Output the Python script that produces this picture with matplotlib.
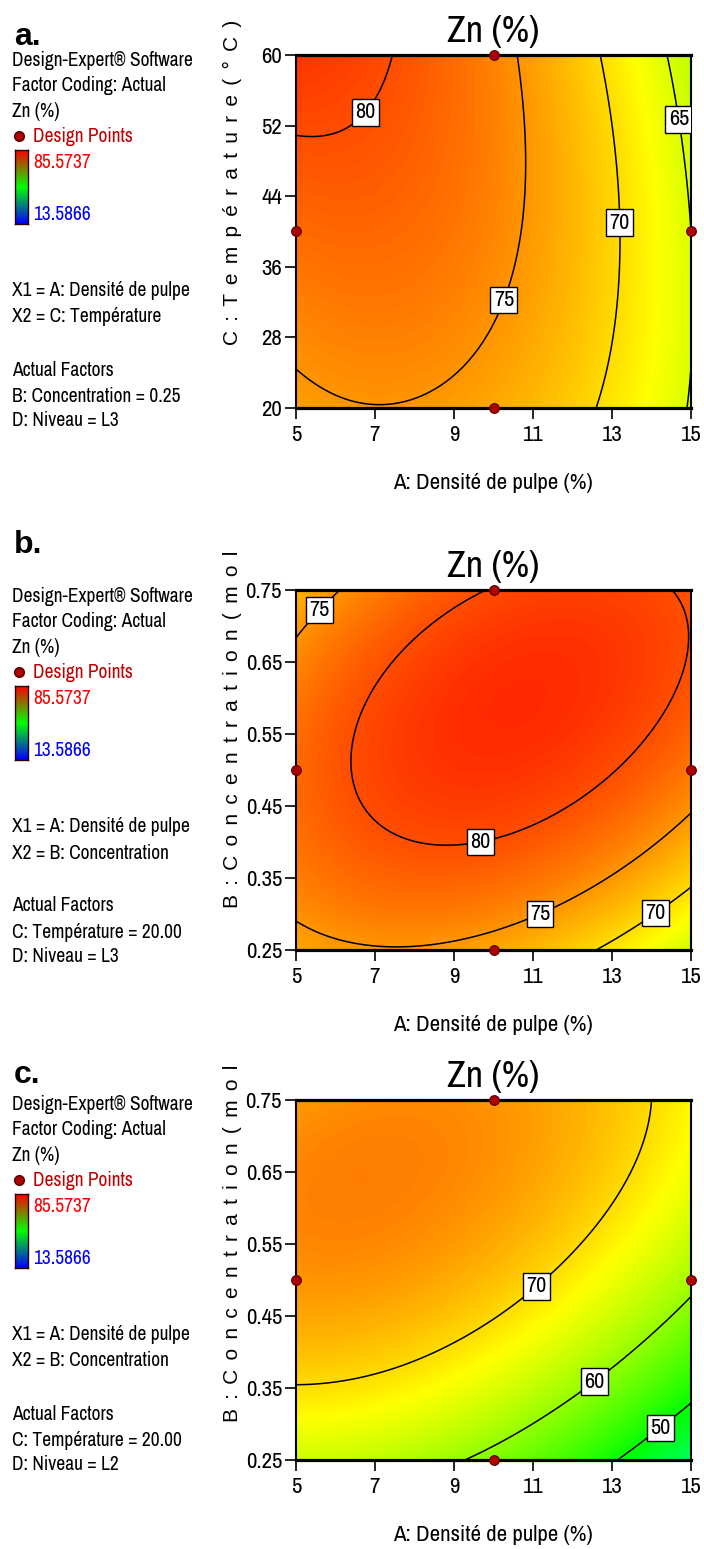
import numpy as np
import matplotlib
matplotlib.use("Agg")
import matplotlib.pyplot as plt
from matplotlib import font_manager
from matplotlib.colors import LinearSegmentedColormap
from matplotlib.transforms import Bbox

# Response values (Zn %) read at the 3x3 design grid, rows = low/center/high of the Y factor,
# columns = A: 5 / 10 / 15 %
zn_a = [[74.2, 73.56, 64.74],
        [77.9, 75.99, 65.0],
        [81.8, 76.18, 63.0]]
zn_b = [[73.65, 73.65, 64.4],
        [77.98, 81.99, 77.1],
        [72.64, 80.14, 79.6]]
zn_c = [[64.0, 58.58, 43.0],
        [75.0, 72.03, 61.2],
        [74.5, 75.0, 68.0]]

dens = [5, 10, 15]
temp = [20, 40, 60]
conc = [0.25, 0.5, 0.75]

levels_a = [65, 70, 75, 80]
levels_b = [70, 75, 80]
levels_c = [50, 60, 70]

zmin, zmax = 13.5866, 85.5737

xticks = [5, 7, 9, 11, 13, 15]
yticks_temp = [20, 28, 36, 44, 52, 60]
yticks_conc = [0.25, 0.35, 0.45, 0.55, 0.65, 0.75]

#label anchor points for the contour labels
lab_a = [(6.5, 54.5), (10.1, 32.5), (13.2, 41), (14.7, 52.7)]
lab_b = [(5.45, 0.73), (9.6, 0.42), (11.1, 0.31), (14.0, 0.31)]
lab_c = [(10.8, 0.51), (12.4, 0.37), (14.0, 0.31)]

legend_a = ["X1 = A: Densité de pulpe", "X2 = C: Température", "Actual Factors",
            "B: Concentration = 0.25", "D: Niveau = L3"]
legend_b = ["X1 = A: Densité de pulpe", "X2 = B: Concentration", "Actual Factors",
            "C: Température = 20.00", "D: Niveau = L3"]
legend_c = ["X1 = A: Densité de pulpe", "X2 = B: Concentration", "Actual Factors",
            "C: Température = 20.00", "D: Niveau = L2"]

W, H = 704, 1549
names = {f.name for f in font_manager.fontManager.ttflist}
NARROW = 'Liberation Sans'
for cand in ['Liberation Sans Narrow', 'Nimbus Sans Narrow', 'Arial Narrow', 'Archivo Narrow',
             'PT Sans Narrow', 'Roboto Condensed', 'Open Sans Condensed']:
    if cand in names:
        NARROW = cand
        break
REG = ['Liberation Sans', 'DejaVu Sans']
plt.rcParams['font.family'] = [NARROW, 'DejaVu Sans']

# blue -> cyan -> green -> yellow -> red, like Design-Expert
surf_cmap = LinearSegmentedColormap.from_list(
    "de", ["#0000ff", "#00ffff", "#00ff00", "#ffff00", "#ff0000"])
bar_cmap = LinearSegmentedColormap.from_list("bar", ["#0000ff", "#00ff00", "#ff0000"])

fig = plt.figure(figsize=(W / 100, H / 100), dpi=100)


def px(x, y):
    return x / W, 1 - y / H


def surface(grid, n=300):
    #quadratic response surface through the grid values
    u = np.linspace(-1, 1, n)
    L = np.stack([u * (u - 1) / 2, 1 - u ** 2, u * (u + 1) / 2])
    return L.T @ np.array(grid) @ L


def panel(top, bottom, grid, ylevels, yticks, yfmt, levels, labpos):
    ax = fig.add_axes([296 / W, 1 - bottom / H, 395 / W, (bottom - top) / H])
    Z = surface(grid)
    x = np.linspace(dens[0], dens[-1], Z.shape[1])
    y = np.linspace(ylevels[0], ylevels[-1], Z.shape[0])
    ax.imshow(Z, extent=[x[0], x[-1], y[0], y[-1]], origin='lower', aspect='auto',
              cmap=surf_cmap, vmin=zmin, vmax=zmax, interpolation='bilinear')
    cs = ax.contour(x, y, Z, levels=levels, colors='black', linewidths=1.1)
    labs = ax.clabel(cs, levels, inline=False, fmt='%d', fontsize=16, manual=labpos)
    for t in labs:
        t.set_rotation(0)
        t.set_bbox(dict(boxstyle='square,pad=0.15', fc='white', ec='black', lw=1))
        t.set_zorder(6)
    # design points
    px_ = [dens[1], dens[0], dens[2], dens[1]]
    py_ = [ylevels[2], ylevels[1], ylevels[1], ylevels[0]]
    ax.plot(px_, py_, 'o', ms=7, mfc='#b00000', mec='#500000', mew=0.8,
            clip_on=False, zorder=7, ls='none')
    ax.set_xlim(dens[0], dens[-1])
    ax.set_ylim(ylevels[0], ylevels[-1])
    ax.set_xticks(xticks)
    ax.set_yticks(yticks)
    ax.set_yticklabels([yfmt % v for v in yticks])
    ax.tick_params(direction='out', length=8, width=1.2, labelsize=16.5)
    ax.tick_params(axis='x', pad=4)
    ax.tick_params(axis='y', pad=2)
    for s in ['left', 'right']:
        ax.spines[s].set_linewidth(1.5)
    for s in ['top', 'bottom']:
        ax.spines[s].set_linewidth(2.3)
    fig.text(*px(493, top - 13), "Zn (%)", ha='center', va='baseline', fontsize=27)
    return ax


def legend(letter, ly, top, lines):
    fig.text(*px(14, ly), letter, ha='left', va='baseline', fontsize=23,
             fontweight='bold', family=REG)
    rows = ["Design-Expert® Software", "Factor Coding: Actual", "Zn (%)"]
    for i, s in enumerate(rows):
        fig.text(*px(12, top + [0, 25.5, 51.5][i]), s, ha='left', va='center', fontsize=14)
    fig.add_artist(plt.Line2D([19 / W], [1 - (top + 76) / H], marker='o', ms=7,
                              mfc='#b00000', mec='#500000', transform=fig.transFigure))
    fig.text(*px(33, top + 76), "Design Points", ha='left', va='center', fontsize=14,
             color='#c00000')
    cax = fig.add_axes([15 / W, 1 - (top + 164) / H, 13 / W, 74 / H])
    cax.imshow(np.linspace(0, 1, 100)[:, None], cmap=bar_cmap, origin='lower', aspect='auto')
    cax.set_xticks([])
    cax.set_yticks([])
    for s in cax.spines.values():
        s.set_linewidth(1)
        s.set_color('#300000')
    fig.text(*px(33, top + 102), "%.4f" % zmax, ha='left', va='center', fontsize=14,
             color='#ff0000')
    fig.text(*px(33, top + 154), "%.4f" % zmin, ha='left', va='center', fontsize=14,
             color='#0000ff')
    for off, s in zip([231, 257, 310, 336, 361], lines):
        fig.text(*px(12, top + off), s, ha='left', va='center', fontsize=14)


def spaced(s):
    #Design-Expert spreads the letters of the vertical axis title
    return (" \u2006").join(c for c in s if c != " ")


def ylabel(text, ybottom, cliptop):
    t = fig.text(*px(232, ybottom), text, rotation=90, ha='center', va='bottom',
                 fontsize=15, family=REG)
    clip = Bbox.from_extents(0, H - ybottom - 10, W, H - cliptop)
    t.set_clip_box(clip)
    t.set_clip_on(True)


def xlabel(yc):
    fig.text(*px(493, yc), "A: Densité de pulpe (%)", ha='center', va='center', fontsize=16.5)


panel(55, 408, zn_a, temp, yticks_temp, "%d", levels_a, lab_a)
panel(590, 950, zn_b, conc, yticks_conc, "%.2f", levels_b, lab_b)
panel(1100, 1460, zn_c, conc, yticks_conc, "%.2f", levels_c, lab_c)

legend("a.", 45, 60, legend_a)
legend("b.", 553, 596, legend_b)
legend("c.", 1083, 1104, legend_c)

ylabel(spaced("C: Température (°C)"), 345, 0)
ylabel(spaced("B: Concentration (mol/L)"), 908, 543)
ylabel(spaced("B: Concentration (mol/L)"), 1422, 1065)

xlabel(483)
xlabel(1025)
xlabel(1535)

fig.savefig("out.png", dpi=100)
